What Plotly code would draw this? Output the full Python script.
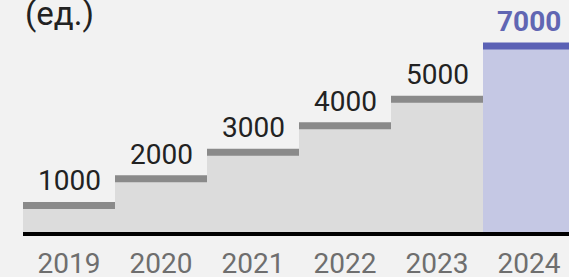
import plotly.graph_objects as go

years = ["2019", "2020", "2021", "2022", "2023", "2024"]
values = [1000, 2000, 3000, 4000, 5000, 7000]
value_labels = ["1000", "2000", "3000", "4000", "5000", "7000"]
unit_label = "(ед.)"

highlight_index = 5
fill_colors = ["#dcdcdc"] * 5 + ["#c5c8e4"]
line_colors = ["#8a8a8a"] * 5 + ["#5b61b5"]
text_colors = ["#222222"] * 5 + ["#6166b3"]

idx = list(range(len(years)))

fig = go.Figure()
fig.add_trace(go.Bar(x=idx, y=values, width=1, marker=dict(color=fill_colors, line=dict(width=0)),
                     hoverinfo="skip", showlegend=False))

for i, v in enumerate(values):
    fig.add_trace(go.Scatter(x=[i - 0.5, i + 0.5], y=[v, v], mode="lines",
                             line=dict(color=line_colors[i], width=7), hoverinfo="skip", showlegend=False))
    fig.add_annotation(x=i, y=v, text=value_labels[i], showarrow=False, xanchor="center", yanchor="bottom",
                       yshift=6, font=dict(family="Roboto", size=28, color=text_colors[i],
                                           weight=700 if i == highlight_index else 400))

fig.add_annotation(x=0, y=1, xref="paper", yref="paper", xanchor="left", yanchor="bottom", text=unit_label,
                   showarrow=False, yshift=-15, xshift=0, font=dict(family="Roboto", size=33, color="#222222"))

ml, mr, mt, mb = 23, 0, 20, 45
plot_w = 569 - ml - mr
fig.update_layout(
    width=569, height=277,
    margin=dict(l=ml, r=mr, t=mt, b=mb, autoexpand=False),
    paper_bgcolor="#f2f2f2", plot_bgcolor="#f2f2f2",
    bargap=0,
    hovermode=False,
    xaxis=dict(range=[-0.5, -0.5 + plot_w / 92], tickvals=idx, ticktext=years, showgrid=False, zeroline=False,
               showline=True, linecolor="#000000", linewidth=4, ticks="", automargin=False,
               ticklabelstandoff=3,
               tickfont=dict(family="Roboto", size=28, color="#6e6e6e"), fixedrange=True),
    yaxis=dict(range=[0, 7980], visible=False, showgrid=False, zeroline=False, fixedrange=True,
               automargin=False),
)

fig.write_html("out.html", config={"displayModeBar": False},
               post_script="document.body.style.margin='0';document.body.style.overflow='hidden';")
